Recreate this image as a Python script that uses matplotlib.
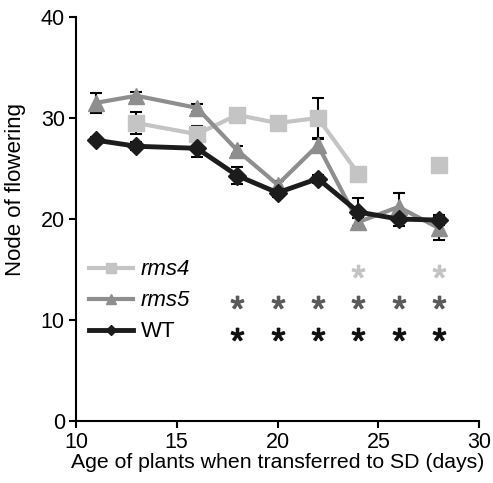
import numpy as np
import matplotlib
matplotlib.use('Agg')
import matplotlib.pyplot as plt

plt.rcParams['font.family'] = ['Liberation Sans', 'DejaVu Sans']
plt.rcParams['font.size'] = 13
plt.rcParams['mathtext.fontset'] = 'custom'
plt.rcParams['mathtext.rm'] = 'Liberation Sans'

age = [11, 13, 16, 18, 20, 22, 24, 26, 28]
wt = [27.8, 27.2, 27.0, 24.3, 22.6, 24.0, 20.7, 20.0, 19.9]
wt_err = [0.3, 0.4, 0.9, 0.8, 0.4, 0.4, 1.4, 0.7, 0.5]
rms5 = [31.5, 32.2, 31.0, 26.8, 23.4, 27.3, 19.7, 21.2, 19.1]
rms5_err = [1.0, 0.4, 0.4, 0.4, 0.4, 0.6, 0.4, 1.4, 1.2]
rms4 = [np.nan, 29.5, 28.4, 30.3, 29.5, 30.0, 24.5, np.nan, 25.3]
rms4_err = [np.nan, 1.1, 0.8, 0.3, 0.3, 2.0, 0.3, np.nan, 0.3]

# significance stars
star_rms4_x = [24, 28]
star_rms5_x = [18, 20, 22, 24, 26, 28]
star_wt_x = [18, 20, 22, 24, 26, 28]
star_y = {'rms4': 14.9, 'rms5': 11.8, 'WT': 8.6}

c4 = '#c4c4c4'
c5 = '#8e8e8e'
cwt = '#1c1c1c'

fig = plt.figure(figsize=(4.93, 4.83), dpi=100)
ax = fig.add_axes([0.154, 0.128, 0.818, 0.837])

ax.errorbar(age, rms4, yerr=rms4_err, fmt='none', ecolor='k', elinewidth=1.5, capsize=4, capthick=1.5, zorder=1)
ax.errorbar(age, rms5, yerr=rms5_err, fmt='none', ecolor='k', elinewidth=1.5, capsize=4, capthick=1.5, zorder=1)
ax.errorbar(age, wt, yerr=wt_err, fmt='none', ecolor='k', elinewidth=1.5, capsize=4, capthick=1.5, zorder=1)

l4, = ax.plot(age, rms4, color=c4, lw=3, marker='s', ms=11, mec=c4, label='rms4', zorder=2)
l5, = ax.plot(age, rms5, color=c5, lw=3, marker='^', ms=12, mec=c5, label='rms5', zorder=3)
lw_, = ax.plot(age, wt, color=cwt, lw=3.5, marker='D', ms=9, mec=cwt, label='WT', zorder=4)

star = r'$\mathrm{*}$'
ax.plot(star_rms4_x, [star_y['rms4']]*len(star_rms4_x), ls='none', marker=star, ms=9, color=c4)
ax.plot(star_rms5_x, [star_y['rms5']]*len(star_rms5_x), ls='none', marker=star, ms=9, color='#5a5a5a')
ax.plot(star_wt_x, [star_y['WT']]*len(star_wt_x), ls='none', marker=star, ms=9, color='#111111')

leg = ax.legend(handles=[l4, l5, lw_], loc='center left', bbox_to_anchor=(0.004, 11.9/40),
                frameon=False, handlelength=2.0, labelspacing=0.45, markerscale=0.6,
                handletextpad=0.35, borderpad=0, fontsize=16)
for t in leg.get_texts()[:2]:
    t.set_style('italic')

ax.set_xlim(10, 30)
ax.set_ylim(0, 40)
ax.set_xticks([10, 15, 20, 25, 30])
ax.set_yticks([0, 10, 20, 30, 40])
ax.spines['top'].set_visible(False)
ax.spines['right'].set_visible(False)
ax.spines['left'].set_linewidth(1.5)
ax.spines['bottom'].set_linewidth(1.5)
ax.tick_params(direction='out', length=5, width=1.5, labelsize=15.5, pad=3)
ax.set_xlabel('Age of plants when transferred to SD (days)', fontsize=15.3, labelpad=0)
ax.set_ylabel('Node of flowering', fontsize=16)
ax.yaxis.set_label_coords(-0.125, 0.574)

plt.savefig('out.png', dpi=100)
